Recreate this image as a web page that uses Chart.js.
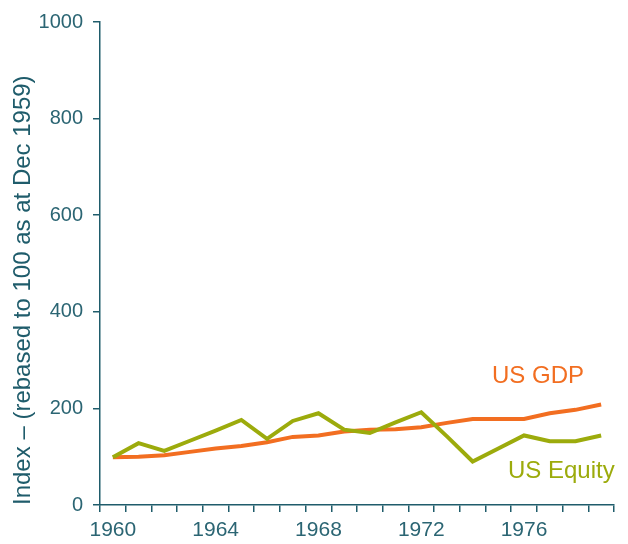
<!DOCTYPE html>
<html>
<head>
<meta charset="utf-8">
<script src="https://cdn.jsdelivr.net/npm/chart.js@4.4.1/dist/chart.umd.min.js"></script>
<style>
html,body{margin:0;padding:0;background:#fff;}
#wrap{width:628px;height:544px;position:relative;}
</style>
</head>
<body>
<div id="wrap"><canvas id="c" width="628" height="544"></canvas></div>
<script>
const years = [1960,1961,1962,1963,1964,1965,1966,1967,1968,1969,1970,1971,1972,1973,1974,1975,1976,1977,1978,1979];
const usGDP = [99,100,103,110,117,122,130,141,144,152,156,157,161,170,178,178,178,190,197,208];
const usEquity = [99,128,112,133,154,176,137,174,190,156,149,171,192,142,90,117,144,132,132,144];
const yTicks = [0,200,400,600,800,1000];
const seriesNames = ['US GDP','US Equity'];

const AXIS = '#1f5c6b';
const TEXT = '#2b6573';
const ORANGE = '#f26e21';
const OLIVE = '#9cab0c';
const FONT = '"Liberation Sans", Arial, sans-serif';

const labelPlugin = {
  id: 'seriesLabels',
  afterDatasetsDraw(chart) {
    const ctx = chart.ctx;
    ctx.save();
    ctx.font = '24px ' + FONT;
    ctx.textBaseline = 'alphabetic';
    ctx.textAlign = 'left';
    ctx.fillStyle = ORANGE;
    ctx.fillText(seriesNames[0], 492, 383);
    ctx.fillStyle = OLIVE;
    ctx.fillText(seriesNames[1], 508, 478);
    ctx.restore();
  }
};

new Chart(document.getElementById('c'), {
  type: 'line',
  data: {
    labels: years.map(String),
    datasets: [
      {label: seriesNames[1], data: usEquity, borderColor: OLIVE, backgroundColor: OLIVE, borderWidth: 4, pointRadius: 0, tension: 0, borderJoinStyle: 'miter'},
      {label: seriesNames[0], data: usGDP, borderColor: ORANGE, backgroundColor: ORANGE, borderWidth: 4, pointRadius: 0, tension: 0, borderJoinStyle: 'miter'}
    ]
  },
  options: {
    responsive: false,
    animation: false,
    devicePixelRatio: 1,
    layout: {padding: {top: 20, right: 14, left: 0, bottom: 0}},
    plugins: {legend: {display: false}, tooltip: {enabled: false}},
    scales: {
      x: {
        type: 'category',
        offset: true,
        grid: {offset: true, drawOnChartArea: false, drawTicks: true, tickLength: 7, color: AXIS, lineWidth: 1.5},
        border: {display: true, color: AXIS, width: 1.5},
        ticks: {
          autoSkip: false, maxRotation: 0, minRotation: 0, padding: 6,
          color: TEXT, font: {family: FONT, size: 21},
          callback: function(v, i) { const y = years[i]; return (y - 1960) % 4 === 0 ? String(y) : ''; }
        },
        afterFit: function(s) { s.height = 39; }
      },
      y: {
        min: 0, max: 1000,
        afterBuildTicks: function(s) { s.ticks = yTicks.map(v => ({value: v})); },
        grid: {drawOnChartArea: false, drawTicks: true, tickLength: 7, color: AXIS, lineWidth: 1.5},
        border: {display: true, color: AXIS, width: 1.5},
        ticks: {padding: 10, color: TEXT, font: {family: FONT, size: 20}, callback: function(v) { return String(v); }},
        title: {display: true, align: 'start', text: 'Index – (rebased to 100 as at Dec 1959)', color: AXIS, font: {family: FONT, size: 24}, padding: {top: 9, bottom: 0}},
        afterFit: function(s) { s.width = 100; }
      }
    }
  },
  plugins: [labelPlugin]
});
</script>
</body>
</html>
